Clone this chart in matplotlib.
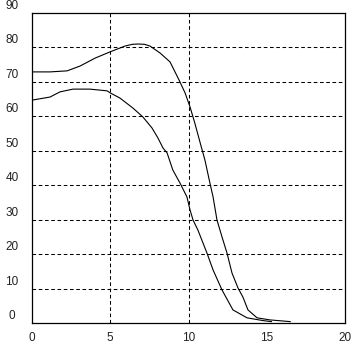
import matplotlib
import matplotlib.pyplot as plt
import matplotlib.transforms as mtransforms

matplotlib.use('Agg')

# ----------------------------------------- Data -----------------------------------------
upper_x = [0.0, 1.15, 2.24, 3.07, 4.03, 4.98, 5.94, 6.4, 6.77, 7.2, 7.54, 8.18, 8.82, 9.39,
           9.78, 10.1, 10.4, 10.8, 11.05, 11.37, 11.57, 11.82, 12.14, 12.46, 12.78,
           13.16, 13.48, 13.8, 14.38, 15.2, 16.5]
upper_y = [72.9, 72.9, 73.2, 74.6, 76.9, 78.7, 80.4, 80.9, 81.0, 80.9, 80.4, 78.4, 75.8,
           70.6, 66.8, 62.7, 58.1, 51.4, 47.3, 40.6, 36.6, 29.9, 25.0, 20.3, 14.5,
           10.2, 7.5, 3.8, 1.5, 0.9, 0.4]

lower_x = [0.0, 1.15, 1.79, 2.62, 3.7, 4.8, 5.0, 5.62, 6.45, 7.09, 7.67, 8.05, 8.37,
           8.63, 9.0, 9.46, 9.9, 10.1, 10.29, 10.6, 11.05, 11.18, 11.57, 12.14,
           12.84, 13.74, 14.76, 15.3]
lower_y = [64.7, 65.6, 67.1, 67.9, 67.9, 67.4, 66.8, 65.3, 62.4, 59.8, 56.6, 53.7, 50.8,
           49.4, 44.4, 40.6, 36.6, 32.8, 29.9, 27.0, 21.8, 20.3, 15.4, 9.6,
           3.8, 1.5, 0.7, 0.4]

x_ticks = [0, 5, 10, 15, 20]
y_ticks = [0, 10, 20, 30, 40, 50, 60, 70, 80, 90]
x_grid = [5, 10]
y_grid = [10, 20, 30, 40, 50, 60, 70, 80]

# ----------------------------------------- Graphing -----------------------------------------
fig = plt.figure(figsize=(3.57, 3.5), dpi=100)
ax = fig.add_axes([32 / 357, 1 - 323 / 350, 313 / 357, 310 / 350])
ax.set_xlim(0, 20)
ax.set_ylim(0, 90)

grid_style = dict(color='black', lw=0.75, dashes=(3.5, 2.5))
for gx in x_grid:
    ax.axvline(gx, **grid_style)
for gy in y_grid:
    ax.axhline(gy, **grid_style)

ax.plot(upper_x, upper_y, color='black', lw=0.8)
ax.plot(lower_x, lower_y, color='black', lw=0.8)

for sp in ax.spines.values():
    sp.set_linewidth(0.9)
    sp.set_color('black')

ax.set_xticks([])
ax.set_yticks([])

label_font = dict(family='Liberation Sans', fontsize=8.5, color='#222222')

# y labels sit a little above their value, centered left of the axis
y_off = mtransforms.ScaledTranslation(-20 / 100, 7 / 100, fig.dpi_scale_trans)
for yv in y_ticks:
    ax.text(0, yv, str(yv), transform=ax.get_yaxis_transform() + y_off,
            ha='center', va='center', **label_font)

x_off = mtransforms.ScaledTranslation(0, -15 / 100, fig.dpi_scale_trans)
for xv in x_ticks:
    ax.text(xv, 0, str(xv), transform=ax.get_xaxis_transform() + x_off,
            ha='center', va='center', **label_font)

plt.savefig('out.png', dpi=100)
